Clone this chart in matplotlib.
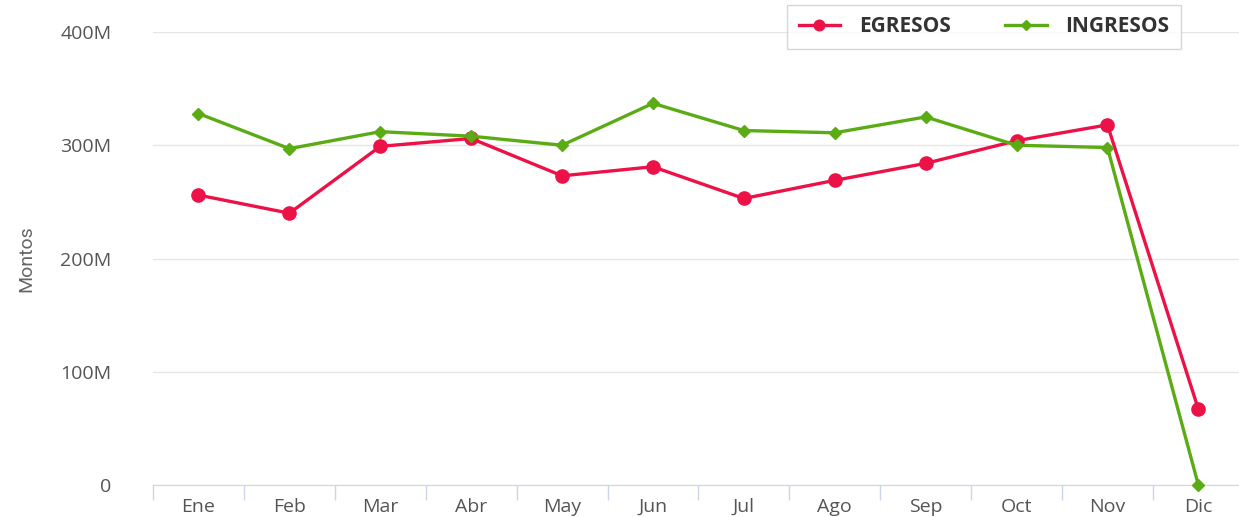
import matplotlib.pyplot as plt
from matplotlib.ticker import FixedLocator, FuncFormatter, NullFormatter

# datos (millones)
meses = ["Ene", "Feb", "Mar", "Abr", "May", "Jun", "Jul", "Ago", "Sep", "Oct", "Nov", "Dic"]
egresos = [256, 240, 299, 306, 273, 281, 253, 269, 284, 304, 318, 67]
ingresos = [328, 297, 312, 308, 300, 337, 313, 311, 325, 300, 298, 0]

color_egr = "#ec1248"
color_ing = "#5bac14"

plt.rcParams['font.family'] = ['Open Sans', 'DejaVu Sans']

fig = plt.figure(figsize=(12.39, 5.17), dpi=100)
ax = fig.add_axes([153 / 1239, 1 - 485 / 517, 1 - 153 / 1239, (485 - 32) / 517])

x = list(range(len(meses)))
ax.plot(x, egresos, color=color_egr, linewidth=2.4, marker="o", markersize=9.5,
        label="EGRESOS", clip_on=False, zorder=3)
ax.plot(x, ingresos, color=color_ing, linewidth=2.4, marker="D", markersize=6,
        label="INGRESOS", clip_on=False, zorder=4)

ax.set_xlim(-0.5, -0.5 + (1239 - 153) / 90.9)
ax.set_ylim(0, 400)

# eje x: marcas entre categorias, etiquetas centradas
ax.xaxis.set_major_locator(FixedLocator([i - 0.5 for i in range(13)]))
ax.xaxis.set_major_formatter(NullFormatter())
ax.xaxis.set_minor_locator(FixedLocator(x))
ax.set_xticklabels(meses, minor=True)
ax.tick_params(axis="x", which="major", length=11, color="#ccd6eb", width=1)
ax.tick_params(axis="x", which="minor", length=0, pad=9, labelsize=14, labelcolor="#555555")

ax.set_yticks([0, 100, 200, 300, 400])
ax.yaxis.set_major_formatter(FuncFormatter(lambda v, p: "0" if v == 0 else f"{int(v)}M"))
ax.tick_params(axis="y", length=0, pad=30, labelsize=14, labelcolor="#555555")
ax.grid(axis="y", color="#e6e6e6", linewidth=1)
ax.set_axisbelow(True)

for s in ["top", "right", "left"]:
    ax.spines[s].set_visible(False)
ax.spines["bottom"].set_color("#ccd6eb")

ax.set_ylabel("Montos", fontsize=14, color="#666666", labelpad=18,
              family=["Roboto", "DejaVu Sans"])

leg = fig.legend(loc="upper right", bbox_to_anchor=(1181 / 1239, 1 - 5 / 517), ncol=2,
                 frameon=True, fancybox=False, edgecolor="#cccccc", borderaxespad=0,
                 handlelength=2.0, columnspacing=2.6, borderpad=0.55, handletextpad=0.9,
                 markerscale=0.8, prop={"weight": "bold", "size": 15})
for t in leg.get_texts():
    t.set_color("#333333")

fig.savefig("out.png", dpi=100)
